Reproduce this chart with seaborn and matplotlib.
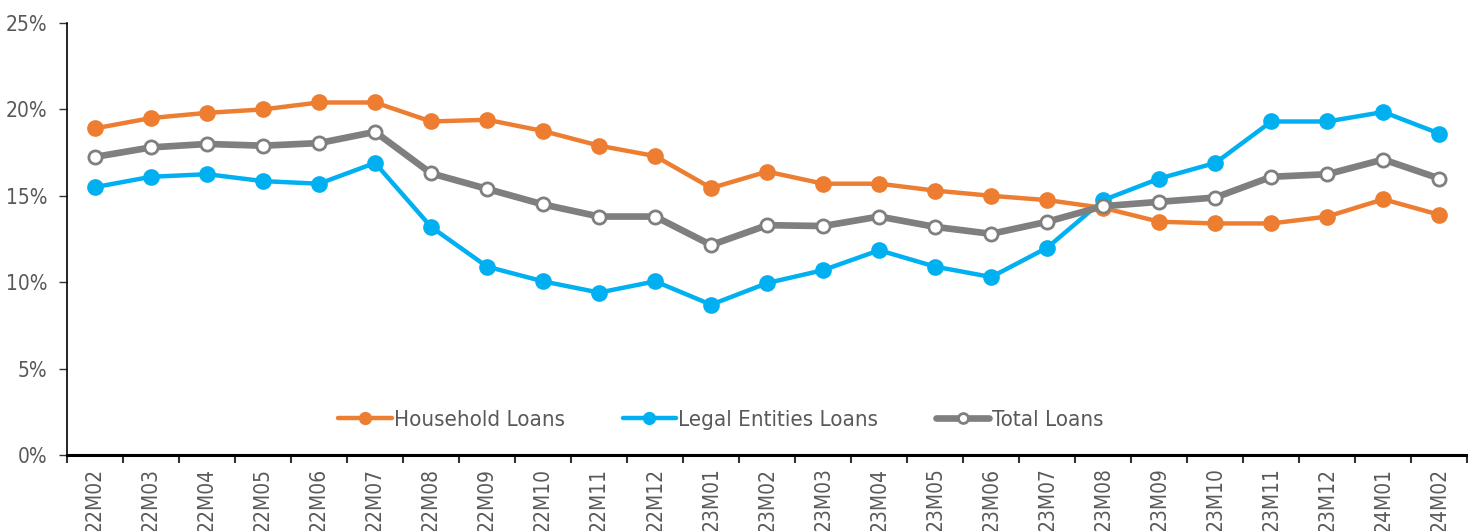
import matplotlib
matplotlib.use("Agg")
import matplotlib.pyplot as plt
import seaborn as sns
import pandas as pd
from matplotlib.ticker import FuncFormatter, FixedLocator

sns.set_theme(style="white")
plt.rcParams['font.family'] = ['DejaVu Sans']
plt.rcParams['font.stretch'] = 'condensed'

months = ["22M02", "22M03", "22M04", "22M05", "22M06", "22M07", "22M08", "22M09",
          "22M10", "22M11", "22M12", "23M01", "23M02", "23M03", "23M04", "23M05",
          "23M06", "23M07", "23M08", "23M09", "23M10", "23M11", "23M12", "24M01", "24M02"]
household = [18.9, 19.5, 19.8, 20.0, 20.4, 20.4, 19.3, 19.4, 18.75, 17.9, 17.3, 15.45,
             16.4, 15.7, 15.7, 15.3, 15.0, 14.75, 14.3, 13.5, 13.4, 13.4, 13.8, 14.8, 13.9]
legal = [15.5, 16.1, 16.25, 15.85, 15.7, 16.9, 13.2, 10.9, 10.05, 9.4, 10.05, 8.7,
         9.95, 10.7, 11.85, 10.9, 10.3, 12.0, 14.75, 16.0, 16.9, 19.3, 19.3, 19.85, 18.6]
total = [17.25, 17.8, 18.0, 17.9, 18.05, 18.7, 16.3, 15.4, 14.5, 13.8, 13.8, 12.15,
         13.3, 13.25, 13.8, 13.2, 12.8, 13.5, 14.4, 14.65, 14.9, 16.1, 16.25, 17.1, 16.0]
series_names = ["Household Loans", "Legal Entities Loans", "Total Loans"]

df = pd.DataFrame({"month": months, "Household Loans": household,
                   "Legal Entities Loans": legal, "Total Loans": total})
df["pos"] = range(len(months))

fig = plt.figure(figsize=(14.68, 5.31), dpi=100)
ax = fig.add_axes([0.0456, 0.1431, 0.954, 0.8136])

styles = {
    "Household Loans": dict(color="#ED7D31", lw=3.2, mfc="#ED7D31", mec="#ED7D31", ms=10),
    "Legal Entities Loans": dict(color="#00B0F0", lw=3.2, mfc="#00B0F0", mec="#00B0F0", ms=10),
    "Total Loans": dict(color="#7F7F7F", lw=4.8, mfc="white", mec="#7F7F7F", ms=9.5),
}
for name in series_names:
    s = styles[name]
    sns.lineplot(data=df, x="pos", y=name, ax=ax, color=s["color"], linewidth=s["lw"],
                 marker="o", markersize=s["ms"], markerfacecolor=s["mfc"],
                 markeredgecolor=s["mec"], markeredgewidth=2, label=name)

ax.set_xlim(-0.5, len(months) - 0.5)
ax.set_ylim(0, 25)
ax.set_yticks([0, 5, 10, 15, 20, 25])
ax.yaxis.set_major_formatter(FuncFormatter(lambda v, p: f"{v:.0f}%"))
ax.set_xticks(range(len(months)))
ax.set_xticklabels(months, rotation=90)
ax.xaxis.set_minor_locator(FixedLocator([i - 0.5 for i in range(len(months) + 1)]))
ax.tick_params(axis="x", which="major", length=0, pad=9, labelsize=15, labelcolor="#595959")
ax.tick_params(axis="x", which="minor", length=6, width=1.5, color="#333333", direction="out", bottom=True)
ax.tick_params(axis="y", length=6, width=1, color="#333333", direction="out", left=True,
               labelsize=15, labelcolor="#595959", pad=8)
ax.set_xlabel("")
ax.set_ylabel("")
for side in ["top", "right"]:
    ax.spines[side].set_visible(False)
ax.spines["left"].set_color("black")
ax.spines["left"].set_linewidth(1.2)
ax.spines["bottom"].set_color("black")
ax.spines["bottom"].set_linewidth(2.2)

leg = ax.legend(loc="center", bbox_to_anchor=(0.4668, 0.081), ncol=3, frameon=False,
                fontsize=16, handlelength=2.4, columnspacing=2.6, handletextpad=0.1,
                markerscale=0.75)
for t in leg.get_texts():
    t.set_color("#595959")

fig.savefig("out.png", dpi=100)
